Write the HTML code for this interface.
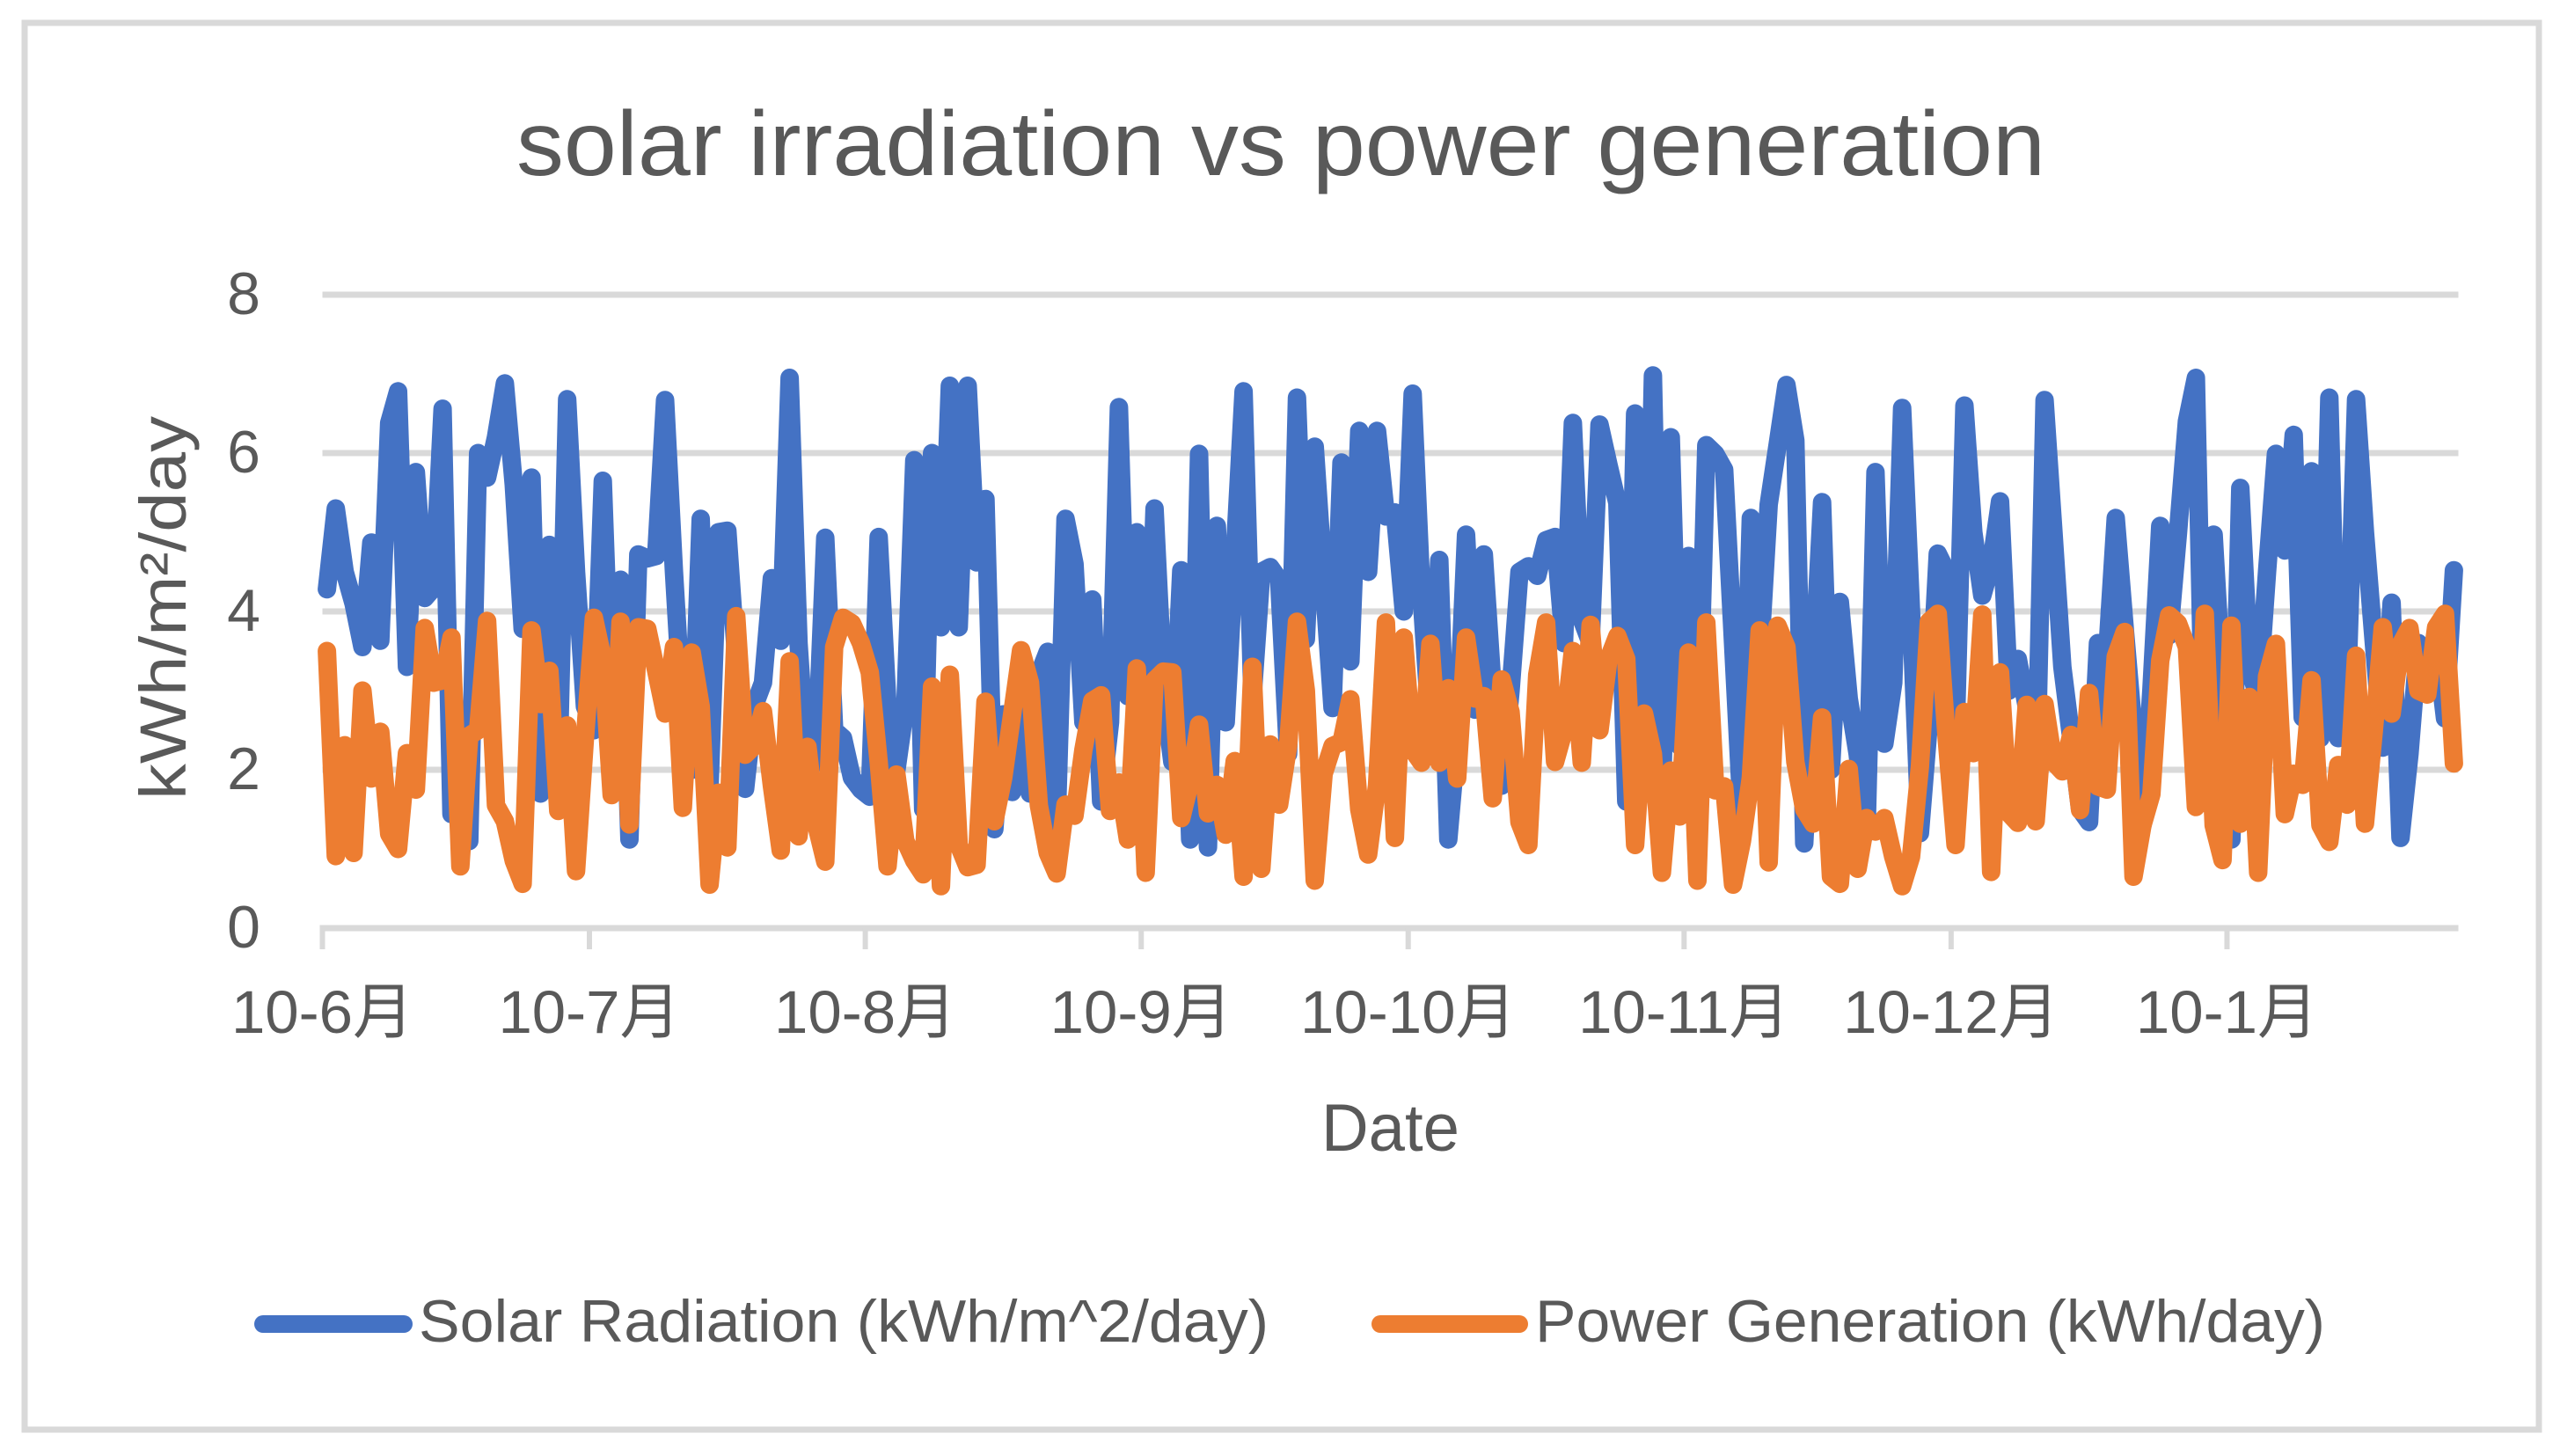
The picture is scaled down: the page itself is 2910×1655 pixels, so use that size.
<!DOCTYPE html>
<html lang="en">
<head>
<meta charset="utf-8">
<title>solar irradiation vs power generation</title>
<style>
html,body{margin:0;padding:0;background:#fff;}
svg{display:block;}
text{font-family:"Liberation Sans","Noto Sans CJK JP",sans-serif;fill:#595959;}
</style>
</head>
<body>
<svg id="chart" xmlns="http://www.w3.org/2000/svg" width="2910" height="1655" viewBox="0 0 2910 1655">
  <rect x="0" y="0" width="2910" height="1655" fill="#ffffff"/>
  <rect x="28" y="26" width="2858" height="1599" fill="#ffffff" stroke="#d9d9d9" stroke-width="7"/>
  <text x="587" y="199" font-size="104" textLength="1738" lengthAdjust="spacingAndGlyphs">solar irradiation vs power generation</text>
  <g id="grid"></g>
  <g id="yticks"></g>
  <g id="xaxis"></g>
  <g id="series"></g>
  <text transform="translate(211,909) rotate(-90)" x="0" y="0" font-size="74" textLength="436" lengthAdjust="spacingAndGlyphs">kWh/m²/day</text>
  <text x="1502" y="1308" font-size="76" textLength="157" lengthAdjust="spacingAndGlyphs">Date</text>
  <g>
    <line x1="299" y1="1505" x2="459" y2="1505" stroke="#4472c4" stroke-width="20" stroke-linecap="round"/>
    <text x="476" y="1525" font-size="68" textLength="966" lengthAdjust="spacingAndGlyphs">Solar Radiation (kWh/m^2/day)</text>
    <line x1="1569" y1="1505" x2="1727" y2="1505" stroke="#ed7d31" stroke-width="20" stroke-linecap="round"/>
    <text x="1745" y="1525" font-size="68" textLength="898" lengthAdjust="spacingAndGlyphs">Power Generation (kWh/day)</text>
  </g>
</svg>
<script>
var monthLabels = ["10-6月","10-7月","10-8月","10-9月","10-10月","10-11月","10-12月","10-1月"];
var monthStartDays = [0,30,61,92,122,153,183,214];
var totalDays = 240;
var yTickValues = [0,2,4,6,8];
var solarRadiation = [
4.28,5.3,4.5,4.1,3.55,4.87,3.63,6.38,6.78,3.3,
5.76,4.17,4.3,6.56,1.44,2.4,1.1,6.0,5.69,6.2,
6.88,5.6,3.78,5.69,1.7,4.84,1.9,6.68,4.5,2.8,
2.5,5.65,2.5,4.4,1.12,4.72,4.67,4.7,6.67,4.5,
2.6,2.0,5.17,1.8,5.0,5.02,3.4,1.76,2.8,3.1,
4.42,3.63,6.95,3.6,1.9,2.2,4.93,2.5,2.4,1.9,
1.75,1.66,4.94,2.8,2.0,2.8,5.91,1.5,6.0,3.8,
6.85,3.8,6.85,4.62,5.42,1.25,2.7,1.72,2.8,1.7,
3.2,3.49,1.3,5.17,4.6,2.6,4.15,1.6,2.6,6.58,
2.93,5.0,2.0,5.3,3.0,2.1,4.52,1.12,5.99,1.02,
5.08,2.6,4.7,6.78,2.9,4.5,4.56,4.4,2.2,6.7,
3.65,6.08,4.4,2.78,5.88,3.37,6.28,4.5,6.28,5.2,
5.25,4.0,6.75,4.2,2.5,4.65,1.12,2.4,4.97,2.76,
4.72,3.0,1.8,3.0,4.5,4.57,4.45,4.9,4.94,3.6,
6.38,3.9,3.6,6.36,5.85,5.37,1.6,6.5,1.8,6.98,
1.6,6.2,2.3,4.7,1.9,6.1,5.99,5.79,3.6,1.4,
5.18,3.4,5.35,6.1,6.86,6.16,1.07,3.2,5.38,2.0,
4.12,2.9,2.2,1.2,5.76,2.33,3.1,6.57,4.0,1.2,
2.6,4.73,4.5,2.4,6.6,5.0,4.2,4.6,5.39,3.0,
3.4,2.8,1.6,6.67,5.0,3.3,2.4,1.5,1.34,3.6,
3.4,5.18,3.8,2.5,1.3,3.0,5.08,3.7,5.0,6.4,
6.95,1.6,4.97,3.0,1.12,5.56,3.3,2.9,4.5,5.99,
4.77,6.23,2.66,5.77,2.4,6.7,2.4,3.0,6.68,5.0,
3.6,2.28,4.11,1.14,2.2,3.6,3.4,3.6,2.65,4.52
];
var powerGeneration = [
3.5,0.91,2.31,0.95,3.0,1.89,2.48,1.19,1.0,2.21,
1.75,3.79,3.1,3.13,3.67,0.78,2.43,2.5,3.88,1.55,
1.35,0.85,0.56,3.76,2.83,3.25,1.48,2.56,0.72,2.4,
3.92,3.4,1.68,3.87,1.31,3.8,3.78,3.25,2.71,3.55,
1.52,3.48,2.8,0.55,1.71,1.02,3.94,2.19,2.3,2.74,
1.8,0.98,3.37,1.16,2.29,1.3,0.84,3.55,3.92,3.85,
3.6,3.23,2.1,0.78,1.94,1.1,0.85,0.68,3.05,0.53,
3.2,1.05,0.77,0.8,2.86,1.35,1.9,2.7,3.51,3.1,
1.55,0.95,0.69,1.56,1.42,2.25,2.87,2.94,1.48,1.84,
1.12,3.28,0.7,3.13,3.24,3.23,1.39,1.85,2.57,1.45,
1.81,1.18,2.11,0.65,3.3,0.75,2.32,1.56,2.3,3.87,
3.0,0.6,1.95,2.3,2.35,2.89,1.5,0.93,1.8,3.86,
1.14,3.67,2.25,2.09,3.59,2.09,3.03,1.89,3.67,2.9,
2.93,1.64,3.14,2.73,1.34,1.05,3.2,3.86,2.1,2.5,
3.5,2.09,3.83,2.5,3.4,3.69,3.4,1.05,2.71,2.2,
0.7,1.99,1.41,3.48,0.6,3.86,1.74,1.79,0.55,1.1,
1.9,3.76,0.83,3.82,3.55,2.1,1.5,1.32,2.66,0.65,
0.56,2.01,0.75,1.39,1.22,1.39,0.9,0.53,0.9,2.04,
3.87,3.97,2.4,1.05,2.73,2.21,3.96,0.71,3.23,1.45,
1.33,2.82,1.35,2.83,2.1,1.98,2.44,1.49,2.97,1.79,
1.75,3.43,3.74,0.65,1.3,1.69,3.38,3.95,3.85,3.55,
1.53,3.97,1.3,0.86,3.82,1.32,2.92,0.7,3.18,3.59,
1.44,1.95,1.81,3.13,1.3,1.09,2.06,1.56,3.44,1.32,
2.5,3.8,2.71,3.58,3.79,3.0,2.95,3.8,3.97,2.08
];

var NS = "http://www.w3.org/2000/svg";
function xDay(d){ return 366.5 + d * (2794.5 - 366.5) / totalDays; }
function xPoint(i){ return xDay(i + 0.5); }
function yVal(v){ return 1055 - v * 90; }
function mk(tag, parent){
  var e = document.createElementNS(NS, tag);
  document.getElementById(parent).appendChild(e);
  return e;
}

yTickValues.forEach(function(v){
  if (v > 0) {
    var g = mk("rect", "grid");
    
    
    g.setAttribute("x", xDay(0));
    g.setAttribute("y", yVal(v) - 3.5);
    g.setAttribute("width", xDay(totalDays) - xDay(0));
    g.setAttribute("height", 7);
    g.setAttribute("fill", "#d9d9d9");
  }
  var t = mk("text", "yticks");
  
  
  t.setAttribute("x", 277);
  t.setAttribute("y", yVal(v) + 22);
  t.setAttribute("font-size", 68);
  t.setAttribute("text-anchor", "middle");
  t.textContent = v;
});

var axisLine = mk("rect", "xaxis");


axisLine.setAttribute("x", xDay(0) - 3);
axisLine.setAttribute("y", yVal(0) - 3.5);
axisLine.setAttribute("width", xDay(totalDays) - xDay(0) + 3);
axisLine.setAttribute("height", 7);
axisLine.setAttribute("fill", "#d9d9d9");

monthStartDays.forEach(function(d, i){
  var tick = mk("rect", "xaxis");
  
  
  tick.setAttribute("x", xDay(d) - 3);
  tick.setAttribute("y", yVal(0));
  tick.setAttribute("width", 6);
  tick.setAttribute("height", 24);
  tick.setAttribute("fill", "#d9d9d9");
  var t = mk("text", "xaxis");
  
  
  t.setAttribute("x", xDay(d));
  t.setAttribute("y", 1174);
  t.setAttribute("font-size", 69);
  t.setAttribute("text-anchor", "middle");
  t.textContent = monthLabels[i];
});

function pathFor(values){
  return values.map(function(v, i){
    return (i ? "L" : "M") + xPoint(i).toFixed(1) + " " + yVal(v).toFixed(1);
  }).join(" ");
}

var solarLine = mk("path", "series");


solarLine.setAttribute("d", pathFor(solarRadiation));
solarLine.setAttribute("fill", "none");
solarLine.setAttribute("stroke", "#4472c4");
solarLine.setAttribute("stroke-width", 21);
solarLine.setAttribute("stroke-linejoin", "round");
solarLine.setAttribute("stroke-linecap", "round");

var powerLine = mk("path", "series");


powerLine.setAttribute("d", pathFor(powerGeneration));
powerLine.setAttribute("fill", "none");
powerLine.setAttribute("stroke", "#ed7d31");
powerLine.setAttribute("stroke-width", 21);
powerLine.setAttribute("stroke-linejoin", "round");
powerLine.setAttribute("stroke-linecap", "round");
</script>
</body>
</html>
